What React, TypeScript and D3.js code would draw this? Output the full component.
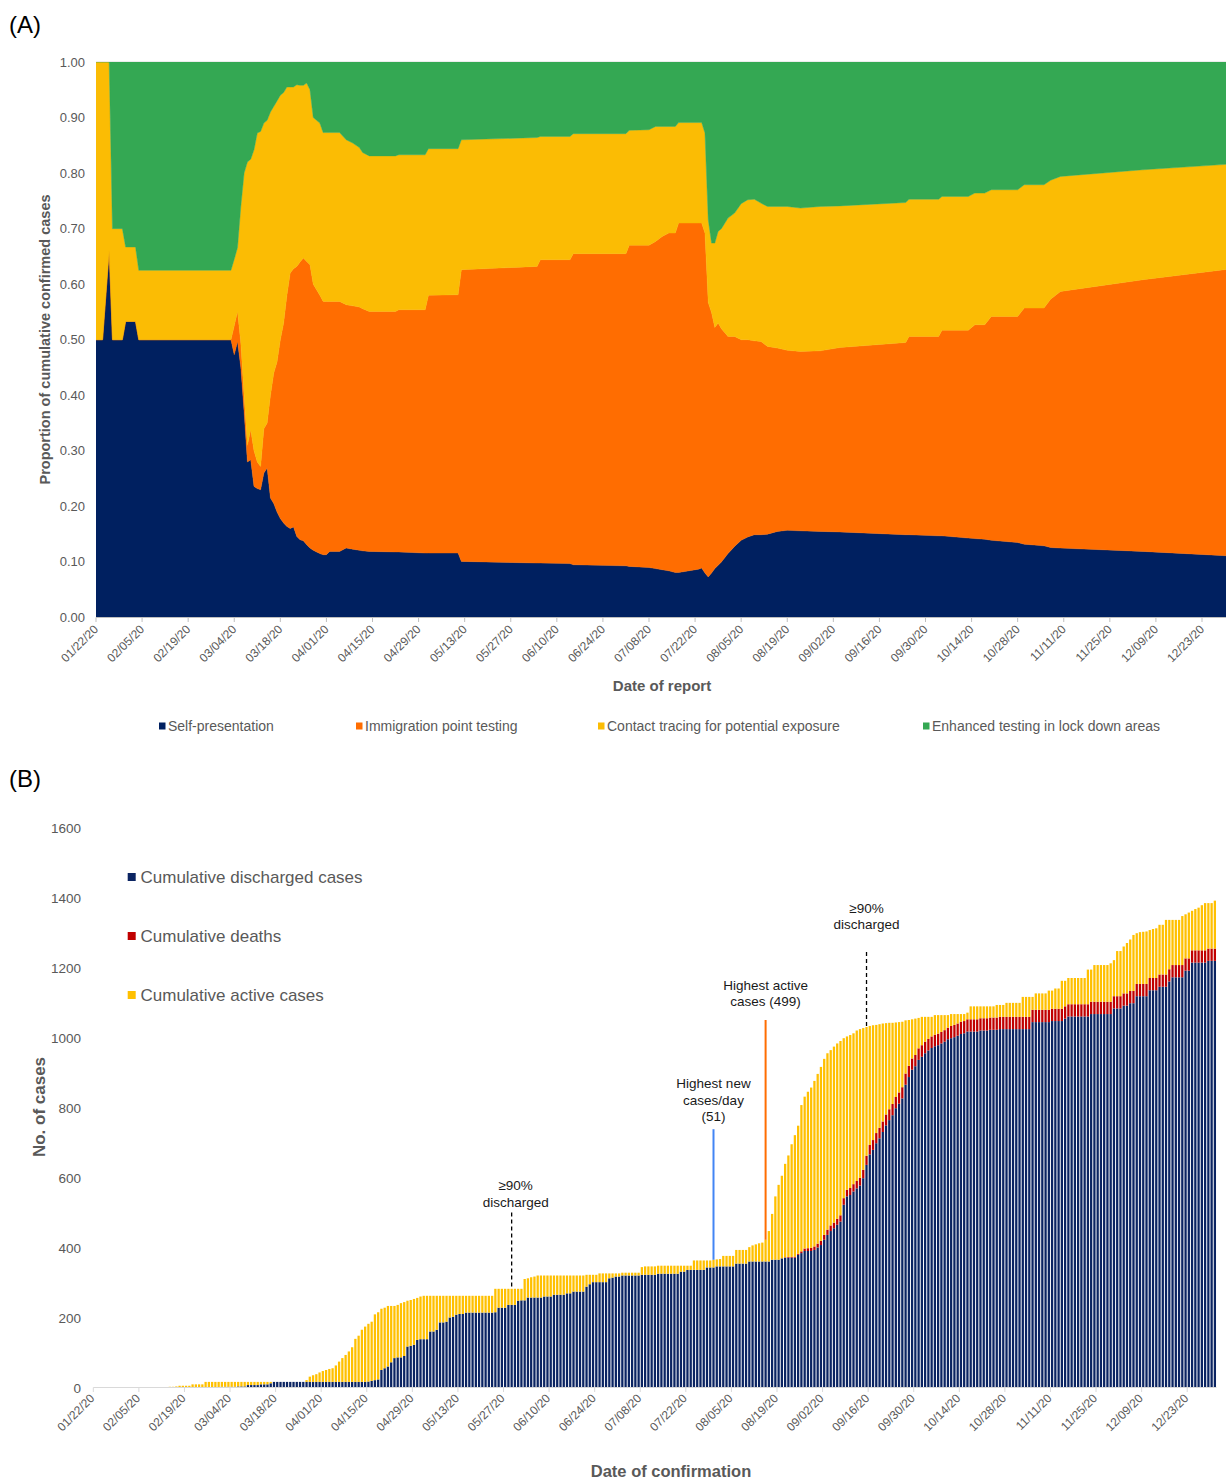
import React from 'react';
import * as d3 from 'd3';

const FONT = "Arial, 'Liberation Sans', Helvetica, sans-serif";
const W = 1226;
const H = 1480;
const N_DAYS = 345; // 01/22/20 .. 12/31/20

// shared x tick labels (every 14 days)
const tickLabels = ['01/22/20', '02/05/20', '02/19/20', '03/04/20', '03/18/20', '04/01/20', '04/15/20', '04/29/20', '05/13/20', '05/27/20', '06/10/20', '06/24/20', '07/08/20', '07/22/20', '08/05/20', '08/19/20', '09/02/20', '09/16/20', '09/30/20', '10/14/20', '10/28/20', '11/11/20', '11/25/20', '12/09/20', '12/23/20'];
const TICK_STEP = 14;

// ---------- Panel A : proportion of cumulative confirmed cases ----------
const seriesA = ['Self-presentation', 'Immigration point testing', 'Contact tracing for potential exposure', 'Enhanced testing in lock down areas'];
const colorsA = ['#002060', '#FF6D01', '#FBBC04', '#34A853'];
const yTicksA = [0, 0.1, 0.2, 0.3, 0.4, 0.5, 0.6, 0.7, 0.8, 0.9, 1.0];

// days since 01/22/20
const reportDay = [
  0, 2, 4, 5, 8, 9, 12, 13,
  41, 42, 43, 44, 45, 46, 47, 48, 49, 50, 51, 52, 53, 54, 55, 56, 57, 58, 59, 60, 61, 62, 63, 64, 65, 66, 67, 68, 69, 70, 71,
  74, 76, 78, 80, 81, 83,
  91, 92, 100, 101, 110, 111,
  134, 135, 144, 145, 161, 162,
  168, 170, 172, 174, 176, 177, 183, 184,
  185, 186, 187, 188, 189, 190,
  192, 194, 196, 198, 200, 202, 204, 207, 210, 214, 220, 226,
  246, 247, 256, 257, 265, 267, 270, 272, 280, 282, 288, 290, 293, 318, 344,
];
// share of self-presentation
const selfShare = [
  0.5, 0.5, 0.66, 0.5, 0.5, 0.533, 0.533, 0.5,
  0.5, 0.473, 0.497, 0.45, 0.37, 0.28, 0.284, 0.236, 0.232, 0.23, 0.26, 0.269, 0.215, 0.205, 0.19, 0.178, 0.17, 0.164, 0.16, 0.163, 0.146, 0.14, 0.138, 0.131, 0.125, 0.121, 0.118, 0.115, 0.113, 0.113, 0.119,
  0.119, 0.125, 0.123, 0.121, 0.12, 0.119,
  0.118, 0.118, 0.116, 0.116, 0.116, 0.101,
  0.098, 0.098, 0.097, 0.095, 0.093, 0.092,
  0.09, 0.088, 0.086, 0.084, 0.081, 0.081, 0.087, 0.089,
  0.08, 0.073, 0.08, 0.088, 0.094, 0.1,
  0.115, 0.128, 0.139, 0.145, 0.149, 0.149, 0.15, 0.155, 0.157, 0.156, 0.155, 0.154,
  0.149, 0.149, 0.147, 0.147, 0.143, 0.142, 0.141, 0.139, 0.135, 0.132, 0.129, 0.126, 0.125, 0.119, 0.111,
];
// cumulative share: self-presentation + immigration point testing
const selfPlusImmigration = [
  0.5, 0.5, 0.66, 0.5, 0.5, 0.533, 0.533, 0.5,
  0.5, 0.525, 0.551, 0.494, 0.4, 0.31, 0.338, 0.3, 0.28, 0.272, 0.34, 0.35, 0.4, 0.44, 0.46, 0.5, 0.53, 0.58, 0.62, 0.628, 0.632, 0.64, 0.647, 0.641, 0.635, 0.6, 0.59, 0.58, 0.569, 0.569, 0.569,
  0.569, 0.563, 0.561, 0.559, 0.556, 0.551,
  0.551, 0.554, 0.554, 0.58, 0.581, 0.626,
  0.632, 0.644, 0.644, 0.655, 0.655, 0.67,
  0.67, 0.677, 0.686, 0.692, 0.692, 0.71, 0.71, 0.71,
  0.692, 0.567, 0.549, 0.522, 0.53, 0.52,
  0.506, 0.506, 0.5, 0.5, 0.498, 0.497, 0.488, 0.485, 0.481, 0.479, 0.48, 0.486,
  0.495, 0.506, 0.506, 0.517, 0.517, 0.527, 0.527, 0.542, 0.542, 0.557, 0.557, 0.573, 0.587, 0.608, 0.627,
];
// cumulative share: + contact tracing (remainder is enhanced testing)
const selfImmPlusContact = [
  1, 1, 1, 0.7, 0.7, 0.667, 0.667, 0.625,
  0.625, 0.645, 0.666, 0.74, 0.8, 0.82, 0.825, 0.842, 0.872, 0.875, 0.89, 0.895, 0.91, 0.92, 0.93, 0.94, 0.945, 0.955, 0.955, 0.955, 0.959, 0.958, 0.958, 0.962, 0.95, 0.9, 0.895, 0.89, 0.873, 0.873, 0.873,
  0.873, 0.86, 0.854, 0.846, 0.837, 0.831,
  0.831, 0.833, 0.833, 0.844, 0.844, 0.86,
  0.864, 0.866, 0.866, 0.871, 0.871, 0.877,
  0.878, 0.884, 0.884, 0.884, 0.884, 0.891, 0.891, 0.891,
  0.872, 0.716, 0.674, 0.674, 0.695, 0.7,
  0.719, 0.728, 0.745, 0.752, 0.753, 0.746, 0.74, 0.74, 0.74, 0.737, 0.74, 0.741,
  0.747, 0.753, 0.753, 0.758, 0.758, 0.764, 0.764, 0.77, 0.77, 0.779, 0.779, 0.787, 0.794, 0.806, 0.816,
];

// ---------- Panel B : cumulative counts by date of confirmation ----------
// [value, number of consecutive days]
const confirmedRuns: [number, number][] = [
  [0, 23], [2, 2], [3, 1], [5, 4], [9, 4], [16, 31],
  [21, 1], [31, 1], [35, 1], [38, 1], [43, 1], [47, 1], [50, 1], [53, 1], [55, 1], [63, 1], [74, 1], [84, 1], [93, 1], [103, 1], [115, 1],
  [139, 1], [148, 1], [165, 1], [174, 1], [182, 1], [188, 1], [209, 1], [215, 1], [225, 1], [228, 1], [233, 3],
  [236, 1], [241, 1], [244, 1], [248, 1], [250, 1], [253, 1], [256, 1], [260, 1], [262, 22], [282, 9],
  [310, 1], [312, 1], [315, 1], [317, 1], [320, 15], [322, 4], [326, 7], [328, 6], [344, 1], [346, 4], [348, 11], [363, 6],
  [365, 1], [366, 1], [367, 1], [376, 4], [393, 4], [401, 1], [406, 1], [409, 1], [412, 1], [414, 1], [422, 1],
  [447, 1], [496, 1], [546, 1], [579, 1], [605, 1], [639, 1], [663, 1], [695, 1], [721, 1], [748, 1],
  [807, 1], [831, 1], [845, 1], [857, 1], [876, 1], [896, 1], [916, 1], [939, 1], [955, 1], [964, 1], [974, 1], [983, 1], [990, 1], [998, 1],
  [1003, 1], [1007, 1], [1012, 1], [1020, 1], [1024, 1], [1027, 1], [1030, 1], [1033, 1], [1035, 1], [1036, 1], [1038, 1], [1040, 1], [1041, 1], [1042, 2],
  [1043, 1], [1044, 1], [1045, 1], [1049, 1], [1050, 1], [1052, 1], [1054, 1], [1056, 1], [1059, 4], [1064, 5], [1067, 5], [1071, 1],
  [1089, 8], [1093, 3], [1099, 5], [1116, 4], [1126, 4], [1134, 2], [1140, 2], [1162, 2], [1170, 6], [1194, 2], [1207, 5], [1212, 1], [1221, 1], [1247, 2],
  [1260, 1], [1270, 1], [1280, 1], [1293, 1], [1298, 1], [1301, 1], [1302, 1], [1303, 1], [1307, 1], [1310, 1], [1312, 1], [1322, 2], [1336, 5],
  [1347, 1], [1352, 1], [1357, 1], [1362, 1], [1367, 1], [1371, 1], [1378, 1], [1384, 3], [1391, 1],
];
const dischargedRuns: [number, number][] = [
  [0, 39], [2, 5], [3, 3], [7, 4], [9, 3], [12, 1], [16, 29], [17, 1], [19, 1], [21, 1], [23, 1],
  [50, 1], [55, 1], [60, 1], [72, 1], [84, 1], [86, 2], [90, 1], [117, 1], [119, 1], [122, 1], [136, 1], [138, 3],
  [160, 2], [165, 1], [186, 2], [188, 1], [200, 1], [202, 1], [208, 1], [210, 2], [214, 9], [215, 1], [228, 3], [236, 3],
  [248, 1], [249, 2], [257, 5], [260, 3], [265, 4], [269, 2], [274, 4], [288, 1], [295, 1], [301, 5], [312, 1], [314, 1], [317, 2],
  [320, 6], [322, 5], [325, 7], [331, 2], [336, 6], [343, 3], [346, 6], [354, 4], [360, 7], [365, 3], [369, 1], [371, 4],
  [379, 1], [384, 1], [390, 3], [393, 1], [400, 1], [407, 1], [422, 1], [436, 1], [447, 1], [455, 1], [465, 1], [474, 1],
  [522, 1], [546, 1], [550, 1], [560, 1], [569, 1], [577, 1], [598, 1], [636, 1], [666, 1], [679, 1], [698, 1], [712, 1],
  [730, 1], [749, 1], [764, 1], [778, 1], [798, 1], [811, 1], [826, 1], [865, 1], [887, 1], [908, 1], [918, 1],
  [936, 1], [945, 1], [955, 1], [963, 1], [970, 1], [975, 1], [978, 1], [983, 1], [988, 1], [995, 1], [998, 1],
  [1001, 1], [1005, 1], [1010, 1], [1012, 1], [1017, 4], [1020, 3], [1022, 3], [1024, 10], [1044, 6], [1047, 4], [1054, 1],
  [1060, 7], [1067, 7], [1083, 3], [1091, 2], [1098, 2], [1118, 4], [1135, 3], [1145, 3], [1160, 1], [1172, 4], [1191, 2], [1214, 5], [1219, 3],
];
const deathRuns: [number, number][] = [
  [0, 212], [1, 1], [2, 2], [3, 2], [5, 1], [7, 1], [8, 1], [9, 1], [10, 1], [11, 1], [12, 1], [14, 1], [15, 1], [16, 2],
  [17, 1], [18, 1], [19, 2], [20, 1], [21, 2], [22, 1], [24, 1], [26, 1], [27, 1], [28, 1], [29, 1], [30, 2], [31, 2],
  [32, 8], [33, 10], [35, 82],
];
const seriesB = ['Cumulative discharged cases', 'Cumulative deaths', 'Cumulative active cases'];
const colorsB = ['#0B2462', '#C00000', '#FFC000'];
const yTicksB = [0, 200, 400, 600, 800, 1000, 1200, 1400, 1600];

// annotations: day index, line from bar top value to topValue
const annotationsB = [
  { day: 128, top: 500, lines: ['\u226590%', 'discharged'], color: '#000000', dashed: true, gap: 6, dx: 4 },
  { day: 190, top: 738, lines: ['Highest new', 'cases/day', '(51)'], color: '#4285F4', dashed: false, gap: 8, dx: 0 },
  { day: 206, top: 1050, lines: ['Highest active', 'cases (499)'], color: '#FF6D01', dashed: false, gap: 14, dx: 0 },
  { day: 237, top: 1244, lines: ['\u226590%', 'discharged'], color: '#000000', dashed: true, gap: 23, dx: 0 },
];

function expand(runs: [number, number][]): number[] {
  const out: number[] = [];
  runs.forEach(([v, n]) => { for (let i = 0; i < n; i++) out.push(v); });
  return out;
}

export default function App() {
  // ----- Panel A -----
  const xA = d3.scaleLinear().domain([0, 336]).range([96, 1202]);
  const yA = d3.scaleLinear().domain([0, 1]).range([617.5, 62]);
  const rowsA = reportDay.map((day, i) => ({
    day,
    s0: selfShare[i],
    s1: selfPlusImmigration[i] - selfShare[i],
    s2: selfImmPlusContact[i] - selfPlusImmigration[i],
    s3: 1 - selfImmPlusContact[i],
  }));
  const stackA = d3.stack<any>().keys(['s0', 's1', 's2', 's3'])(rowsA);
  const areaA = d3.area<any>()
    .x((d) => xA(d.data.day))
    .y0((d) => yA(d[0]))
    .y1((d) => yA(d[1]))
    .curve(d3.curveLinear);

  // ----- Panel B -----
  const confirmed = expand(confirmedRuns);
  const discharged = expand(dischargedRuns);
  const deaths = expand(deathRuns);
  const rowsB = d3.range(N_DAYS).map((i) => {
    const c = confirmed[i] ?? confirmed[confirmed.length - 1];
    const dc = discharged[i] ?? discharged[discharged.length - 1];
    const de = deaths[i] ?? deaths[deaths.length - 1];
    return { day: i, discharged: dc, deaths: de, active: Math.max(0, c - dc - de) };
  });
  const stackB = d3.stack<any>().keys(['discharged', 'deaths', 'active'])(rowsB);
  const bx0 = 93.3;
  const bx1 = 1216.5;
  const xB = d3.scaleBand<number>().domain(d3.range(N_DAYS)).range([bx0, bx1]).paddingInner(0.3).paddingOuter(0.15);
  const stepB = xB.step();
  const yB = d3.scaleLinear().domain([0, 1600]).range([1387.5, 827.5]);
  const tickXB = (k: number) => bx0 + k * TICK_STEP * stepB;
  const barTop = (day: number) => {
    const r = rowsB[day];
    return r.discharged + r.deaths + r.active;
  };

  const gray = '#595959';

  return (
    <svg width={W} height={H} style={{ position: 'absolute', left: 0, top: 0, background: '#fff' }} fontFamily={FONT}>
      <rect x={0} y={0} width={W} height={H} fill="#ffffff" />

      {/* ================= Panel A ================= */}
      <text x={9} y={33} fontSize={24} fill="#000">(A)</text>
      <defs>
        <clipPath id="clipA">
          <rect x={96} y={62} width={W - 96} height={556} />
        </clipPath>
      </defs>
      <line x1={96} x2={W} y1={yA(1)} y2={yA(1)} stroke="#D9D9D9" strokeWidth={1} />
      <g clipPath="url(#clipA)">
        {stackA.map((s, i) => (
          <path key={i} d={areaA(s as any) || ''} fill={colorsA[i]} stroke={colorsA[i]} strokeWidth={0.4} />
        ))}
      </g>
      {/* y axis A */}
      {yTicksA.map((v) => (
        <text key={v} x={85} y={yA(v) + 4.5} textAnchor="end" fontSize={13} fill={gray}>{v.toFixed(2)}</text>
      ))}
      <text transform={`translate(50,${(62 + 617) / 2}) rotate(-90)`} textAnchor="middle" fontSize={14.5} fontWeight="bold" fill={gray}>
        Proportion of cumulative confirmed cases
      </text>
      {/* x axis A */}
      <line x1={96} x2={W} y1={617.5} y2={617.5} stroke="#BFBFBF" strokeWidth={1} />
      {tickLabels.map((lab, k) => {
        const x = xA(k * TICK_STEP);
        return (
          <g key={lab}>
            <line x1={x} x2={x} y1={617.5} y2={622} stroke="#BFBFBF" />
            <text transform={`translate(${x + 3},${630}) rotate(-45)`} textAnchor="end" fontSize={12} fill={gray}>{lab}</text>
          </g>
        );
      })}
      <text x={662} y={691} textAnchor="middle" fontSize={15} fontWeight="bold" fill={gray}>Date of report</text>
      {/* legend A */}
      {seriesA.map((name, i) => {
        const lx = [159, 356, 598, 923][i];
        return (
          <g key={name}>
            <rect x={lx} y={722.5} width={6.5} height={7} fill={colorsA[i]} />
            <text x={lx + 9} y={731} fontSize={14} fill={gray}>{name}</text>
          </g>
        );
      })}

      {/* ================= Panel B ================= */}
      <text x={9} y={787} fontSize={24} fill="#000">(B)</text>
      {yTicksB.map((v) => (
        <text key={v} x={81} y={yB(v) + 5} textAnchor="end" fontSize={13.5} fill={gray}>{v}</text>
      ))}
      <text transform={`translate(45,${1107}) rotate(-90)`} textAnchor="middle" fontSize={17} fontWeight="bold" fill={gray}>No. of cases</text>
      {stackB.map((s, i) => (
        <g key={i} fill={colorsB[i]}>
          {s.map((d: any) => {
            const h = yB(d[0]) - yB(d[1]);
            if (h <= 0) return null;
            return <rect key={d.data.day} x={xB(d.data.day)} y={yB(d[1])} width={xB.bandwidth()} height={h} />;
          })}
        </g>
      ))}
      <line x1={bx0} x2={bx1} y1={1387.5} y2={1387.5} stroke="#D9D9D9" strokeWidth={1} />
      {tickLabels.map((lab, k) => {
        const x = tickXB(k);
        return (
          <g key={lab}>
            <line x1={x} x2={x} y1={1387.5} y2={1392} stroke="#D9D9D9" />
            <text transform={`translate(${x + 2},${1399}) rotate(-45)`} textAnchor="end" fontSize={12} fill={gray}>{lab}</text>
          </g>
        );
      })}
      <text x={671} y={1477} textAnchor="middle" fontSize={16.5} fontWeight="bold" fill={gray}>Date of confirmation</text>
      {/* legend B */}
      {seriesB.map((name, i) => {
        const ly = 877 + i * 59;
        return (
          <g key={name}>
            <rect x={127.7} y={ly - 4} width={8} height={8} fill={colorsB[i]} />
            <text x={140.5} y={ly + 6} fontSize={17} fill={gray}>{name}</text>
          </g>
        );
      })}
      {/* annotations */}
      {annotationsB.map((a, i) => {
        const x = (xB(a.day) as number) + xB.bandwidth() / 2;
        const yBottom = yB(barTop(a.day));
        const yTop = yB(a.top);
        const n = a.lines.length;
        return (
          <g key={i}>
            <line x1={x} x2={x} y1={yTop} y2={yBottom} stroke={a.color} strokeWidth={a.dashed ? 1.3 : 2} strokeDasharray={a.dashed ? '4,3' : undefined} />
            {a.lines.map((t, j) => (
              <text key={j} x={x + a.dx} y={yTop - a.gap - (n - 1 - j) * 16.5} textAnchor="middle" fontSize={13.5} fill="#1a1a1a">{t}</text>
            ))}
          </g>
        );
      })}
    </svg>
  );
}
